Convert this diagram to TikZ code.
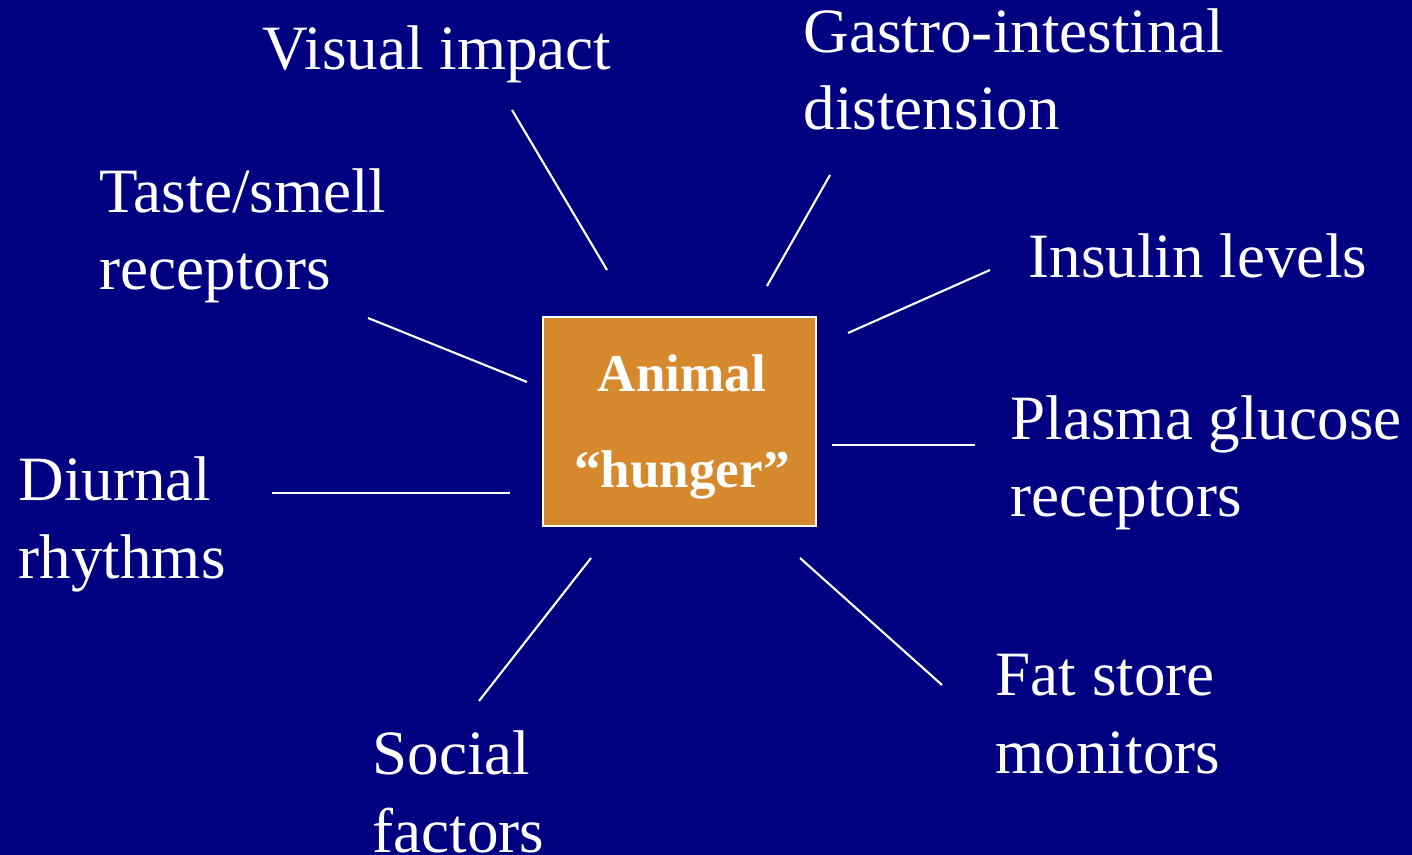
\documentclass[tikz,border=0pt]{standalone}
\usepackage{fontspec}
\setmainfont{Liberation Serif}
\usetikzlibrary{positioning}

\definecolor{navy}{RGB}{0,0,128}
\definecolor{hungerorange}{RGB}{214,137,44}

\begin{document}
\begin{tikzpicture}[
x=0.01cm, y=-0.01cm,
factor/.style={
text=white,
anchor=base west,
align=left,
inner sep=0pt,
font=\fontsize{17.95}{21.9}\selectfont
},
hungerbox/.style={
draw=white,
line width=0.6pt,
fill=hungerorange,
minimum width=2.73cm,
minimum height=2.09cm,
inner sep=0pt
},
boxtext/.style={
text=white,
anchor=base,
align=center,
inner sep=0pt,
font=\fontsize{15.1}{27.3}\selectfont\bfseries
},
spoke/.style={draw=white, line width=0.6pt}
]

\fill[navy] (0,0) rectangle (1412,855);
\useasboundingbox (0,0) rectangle (1412,855);

\node[hungerbox] (box) at (679.5,421.5) {};
\node[boxtext] (boxlabel) at (682,488) {Animal\\``hunger''};

% last baselines of the labels
\node[factor] (visual) at (262,70) {Visual impact};
\node[factor] (gastro) at (803,130) {Gastro-intestinal\\distension};
\node[factor] (taste) at (99,290) {Taste/smell\\receptors};
\node[factor] (insulin) at (1028,278) {Insulin levels};
\node[factor] (plasma) at (1010,517) {Plasma glucose\\receptors};
\node[factor] (diurnal) at (18,578) {Diurnal\\rhythms};
\node[factor] (fat) at (995,773) {Fat store\\monitors};
\node[factor] (social) at (372,852) {Social\\factors};

% free ends of the spokes
\coordinate (visualA) at (512,110);
\coordinate (visualB) at (607,270);
\coordinate (gastroA) at (830,175);
\coordinate (gastroB) at (767,286);
\coordinate (insulinA) at (990,270);
\coordinate (insulinB) at (848,333);
\coordinate (plasmaA) at (975,445);
\coordinate (plasmaB) at (832,445);
\coordinate (fatA) at (942,685);
\coordinate (fatB) at (800,558);
\coordinate (socialA) at (479,701);
\coordinate (socialB) at (591,558);
\coordinate (diurnalA) at (272,493);
\coordinate (diurnalB) at (510,493);
\coordinate (tasteA) at (368,318);
\coordinate (tasteB) at (527,382);

\draw[spoke] (visualA)--(visualB);
\draw[spoke] (gastroA)--(gastroB);
\draw[spoke] (insulinA)--(insulinB);
\draw[spoke] (plasmaA)--(plasmaB);
\draw[spoke] (fatA)--(fatB);
\draw[spoke] (socialA)--(socialB);
\draw[spoke] (diurnalA)--(diurnalB);
\draw[spoke] (tasteA)--(tasteB);

\end{tikzpicture}
\end{document}
